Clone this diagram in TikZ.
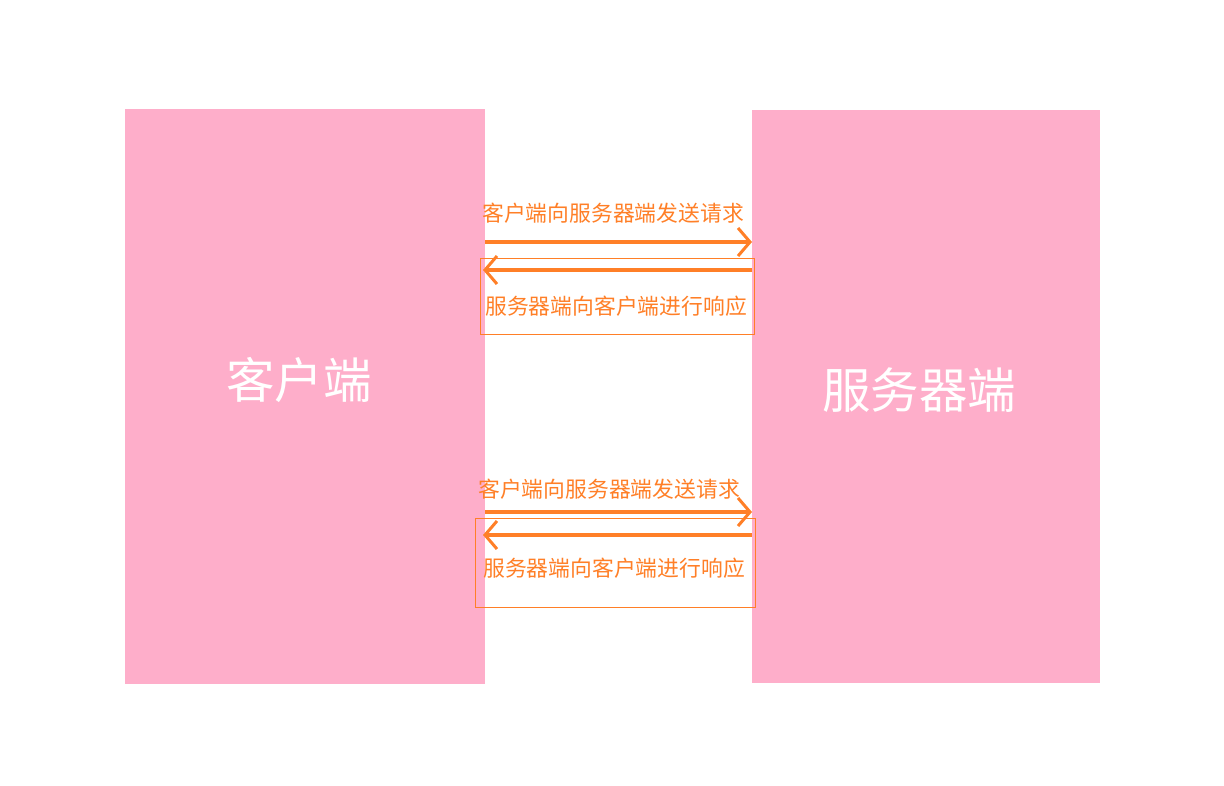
\documentclass[tikz,border=0pt]{standalone}
\usepackage{fontspec}
\setmainfont{Noto Sans CJK SC}
\usetikzlibrary{arrows.meta}
\definecolor{boxpink}{HTML}{FEAECA}
\definecolor{msgorange}{HTML}{FF7F27}

\begin{document}
\begin{tikzpicture}
[x=1pt,y=-1pt,
 side/.style={fill=boxpink,inner sep=0pt,outer sep=0pt},
 big/.style={text=white,font=\fontsize{48.5}{52}\selectfont},
 msg/.style={text=msgorange,font=\fontsize{21.8}{24}\selectfont},
 frame/.style={draw=msgorange,line width=0.8pt,inner sep=0pt},
 arr/.style={draw=msgorange,line width=3.5pt,-{Straight Barb[length=12pt,width=28pt,line width=3pt]}}]
\useasboundingbox (0,0) rectangle (1224,786);
\node[side,minimum width=360pt,minimum height=575pt] (client) at (305,396.5) {};
\node[side,minimum width=348pt,minimum height=573pt] (server) at (926,396.5) {};
\node[big] (clientname) at (299,380) {客户端};
\node[big] (servername) at (919,390) {服务器端};
% first exchange
\node[frame,minimum width=274pt,minimum height=76pt] (box1) at (617,296) {};
\node[msg] (req1) at (613,213) {客户端向服务器端发送请求};
\node[msg] (resp1) at (616,306) {服务器端向客户端进行响应};
% second exchange
\node[frame,minimum width=280pt,minimum height=89pt] (box2) at (615,562.5) {};
\node[msg] (req2) at (609,489) {客户端向服务器端发送请求};
\node[msg] (resp2) at (614,568) {服务器端向客户端进行响应};
\foreach \y in {242,512}
\draw[arr] (client.east |- 0,\y) -- (server.west |- 0,\y);
\foreach \y in {270,535}
\draw[arr] (server.west |- 0,\y) -- ([xshift=-2pt]client.east |- 0,\y);
\end{tikzpicture}
\end{document}
